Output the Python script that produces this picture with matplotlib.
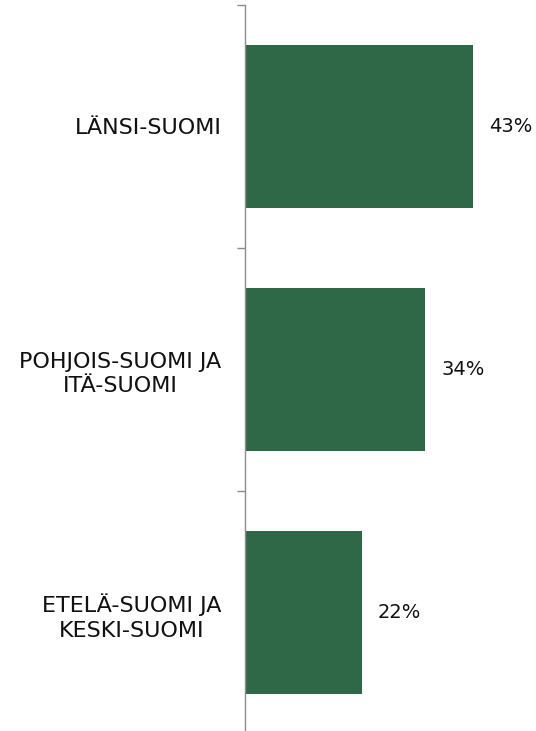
import matplotlib
matplotlib.use("Agg")
import matplotlib.pyplot as plt

# data
regions = ["LÄNSI-SUOMI", "POHJOIS-SUOMI JA\nITÄ-SUOMI", "ETELÄ-SUOMI JA\nKESKI-SUOMI"]
shares = [43, 34, 22]
value_labels = ["43%", "34%", "22%"]

W, H = 536, 731
fig = plt.figure(figsize=(W / 100, H / 100), dpi=100)
# axes placed in pixel terms: spine at x=245, top at y=5, bottom just below figure
ax = fig.add_axes([245 / W, (H - 734) / H, (W - 245) / W, 729 / H])

pos = list(range(len(regions)))
bars = ax.barh(pos, shares, height=0.667, color="#2e6847")
ax.set_ylim(len(regions) - 0.5, -0.5)
ax.set_xlim(0, 291 / 5.3)

ax.set_yticks(pos)
ax.set_yticklabels(regions, fontsize=16, color="#111111")
for lab in ax.get_yticklabels():
    lab.set_multialignment("center")
    lab.set_linespacing(1.3)
ax.tick_params(axis="y", which="major", length=0, pad=17)
ax.set_yticks([p - 0.5 for p in pos] + [len(regions) - 0.5], minor=True)
ax.tick_params(axis="y", which="minor", length=5.8, width=1.0, color="#8c8c8c")
ax.set_xticks([])

for s in ["top", "right", "bottom"]:
    ax.spines[s].set_visible(False)
ax.spines["left"].set_color("#8c8c8c")
ax.spines["left"].set_linewidth(1.0)

ax.bar_label(bars, labels=value_labels, padding=11.5, fontsize=14, color="#111111")

fig.savefig("out.png", dpi=100)
